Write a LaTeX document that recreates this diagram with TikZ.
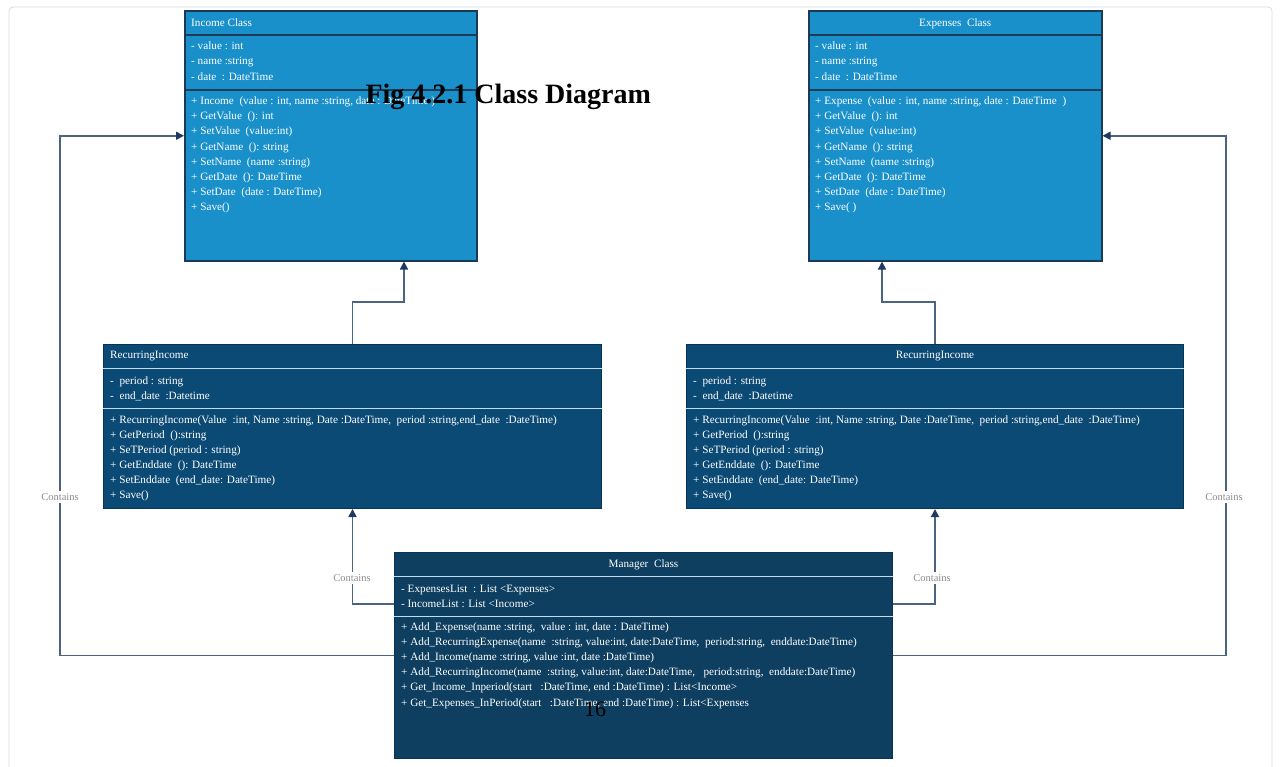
\documentclass[tikz,border=0pt]{standalone}
\usepackage{fontspec}
\setmainfont{Liberation Serif}
\usetikzlibrary{arrows.meta,calc}

\definecolor{incblue}{HTML}{1A90CB}
\definecolor{incedge}{HTML}{1B3A56}
\definecolor{recblue}{HTML}{0C4A76}
\definecolor{mgrblue}{HTML}{0E3F60}
\definecolor{seplight}{HTML}{BFDDF0}
\definecolor{wire}{HTML}{4A6482}
\definecolor{tipblue}{HTML}{1E3A5E}

\tikzset{
  lightclass/.style={draw=incedge, line width=1.5pt, fill=incblue, inner sep=0pt, anchor=north west},
  darkclass/.style={draw=recblue!70!black, line width=1pt, fill=recblue, inner sep=0pt, anchor=north west},
  row/.style={anchor=west, inner sep=0pt, text=white, font=\fontsize{11.2}{13}\selectfont, text height=7pt, text depth=2pt},
  sepdark/.style={draw=incedge, line width=1.5pt},
  seplt/.style={draw=seplight, line width=1pt},
  contains/.style={draw=wire, line width=1.6pt, -{Triangle[length=8pt,width=8pt,color=tipblue]}},
  clabel/.style={fill=white, text=black!45, font=\fontsize{10.5}{12}\selectfont, inner sep=2pt},
}

% name, x, y of first row, row step, list of rows
\newcommand{\classrows}[5]{\foreach \txt [count=\i] in {#5}
  \node[row] (#1\i) at (#2,{#3+#4*(\i-1)}) {\txt};}

\begin{document}
\begin{tikzpicture}[x=1pt,y=-1pt]
\useasboundingbox (0,0) rectangle (1280,766);
\draw[black!15, line width=0.8pt, rounded corners=4pt] (9,7) rectangle (1272,800);

%% Income class
\node[lightclass, minimum width=292pt, minimum height=250pt] (income) at (184,10) {};
\draw[sepdark] ([yshift=-25pt]income.north west) -- ([yshift=-25pt]income.north east);
\draw[sepdark] ([yshift=-80pt]income.north west) -- ([yshift=-80pt]income.north east);
\node[row] (incT) at (191,24) {Income Class};
\classrows{inca}{191}{47}{15.3}{{- value : int},{- name :string},{- date~ : DateTime}}
\classrows{incm}{191}{102}{15.2}{{+ Income~ (value : int, name :string, date : DateTime )},{+ GetValue~ (): int},{+ SetValue~ (value:int)},{+ GetName~ (): string},{+ SetName~ (name :string)},{+ GetDate~ (): DateTime},{+ SetDate~ (date : DateTime)},{+ Save()}}

%% Expenses class
\node[lightclass, minimum width=293pt, minimum height=250pt] (expense) at (808,10) {};
\draw[sepdark] ([yshift=-25pt]expense.north west) -- ([yshift=-25pt]expense.north east);
\draw[sepdark] ([yshift=-80pt]expense.north west) -- ([yshift=-80pt]expense.north east);
\node[row, anchor=center] (expT) at ([yshift=-14pt]expense.north) {Expenses~ Class};
\classrows{expa}{815}{47}{15.3}{{- value : int},{- name :string},{- date~ : DateTime}}
\classrows{expm}{815}{102}{15.2}{{+ Expense~ (value : int, name :string, date : DateTime~ )},{+ GetValue~ (): int},{+ SetValue~ (value:int)},{+ GetName~ (): string},{+ SetName~ (name :string)},{+ GetDate~ (): DateTime},{+ SetDate~ (date : DateTime)},{+ Save( )}}

%% recurring, left
\node[darkclass, minimum width=498pt, minimum height=164pt] (recL) at (103,344) {};
\draw[seplt] ([yshift=-24pt]recL.north west) -- ([yshift=-24pt]recL.north east);
\draw[seplt] ([yshift=-64pt]recL.north west) -- ([yshift=-64pt]recL.north east);
\node[row] (recLT) at (110,356) {RecurringIncome};
\classrows{recla}{110}{382}{14.5}{{-~ period : string},{-~ end\_date~ :Datetime}}
\classrows{reclm}{110}{421}{15}{{+ RecurringIncome(Value~ :int, Name :string, Date :DateTime,~ period :string,end\_date~ :DateTime)},{+ GetPeriod~ ():string},{+ SeTPeriod (period : string)},{+ GetEnddate~ (): DateTime},{+ SetEnddate~ (end\_date: DateTime)},{+ Save()}}

%% recurring, right
\node[darkclass, minimum width=497pt, minimum height=164pt] (recR) at (686,344) {};
\draw[seplt] ([yshift=-24pt]recR.north west) -- ([yshift=-24pt]recR.north east);
\draw[seplt] ([yshift=-64pt]recR.north west) -- ([yshift=-64pt]recR.north east);
\node[row, anchor=center] (recRT) at ([yshift=-12pt]recR.north) {RecurringIncome};
\classrows{recra}{693}{382}{14.5}{{-~ period : string},{-~ end\_date~ :Datetime}}
\classrows{recrm}{693}{421}{15}{{+ RecurringIncome(Value~ :int, Name :string, Date :DateTime,~ period :string,end\_date~ :DateTime)},{+ GetPeriod~ ():string},{+ SeTPeriod (period : string)},{+ GetEnddate~ (): DateTime},{+ SetEnddate~ (end\_date: DateTime)},{+ Save()}}

%% manager
\node[darkclass, fill=mgrblue, minimum width=498pt, minimum height=206pt] (mgr) at (394,552) {};
\draw[seplt] ([yshift=-24pt]mgr.north west) -- ([yshift=-24pt]mgr.north east);
\draw[seplt] ([yshift=-64pt]mgr.north west) -- ([yshift=-64pt]mgr.north east);
\node[row, anchor=center] (mgrT) at ([yshift=-13pt]mgr.north) {Manager~ Class};
\classrows{mgra}{401}{590}{14.5}{{- ExpensesList~ : List <Expenses>},{- IncomeList : List <Income>}}
\classrows{mgrm}{401}{628}{15.1}{{+ Add\_Expense(name :string,~ value : int, date : DateTime)},{+ Add\_RecurringExpense(name~ :string, value:int, date:DateTime,~ period:string,~ enddate:DateTime)},{+ Add\_Income(name :string, value :int, date :DateTime)},{+ Add\_RecurringIncome(name~ :string, value:int, date:DateTime,~~ period:string,~ enddate:DateTime)},{+ Get\_Income\_Inperiod(start~~ :DateTime, end :DateTime) : List<Income>},{+ Get\_Expenses\_InPeriod(start~~ :DateTime, end :DateTime) : List<Expenses}}

%% inheritance
\draw[contains] (recL.north) -- ++(0,-42) -| ($(income.south west)+(220,0)$);
\draw[contains] (recR.north) -- ++(0,-42) -| ($(expense.south west)+(74,0)$);

%% manager links
\draw[contains] ($(mgr.north west)+(0,52)$) -| (recL.south);
\draw[contains] ($(mgr.north east)+(0,52)$) -| (recR.south);
\draw[contains] (mgr.west) -- ++(-334,0) |- (income.west);
\draw[contains] (mgr.east) -- ++(333,0) |- (expense.east);
\node[clabel] (c1) at (60,497) {Contains};
\node[clabel] (c2) at (352,578) {Contains};
\node[clabel] (c3) at (932,578) {Contains};
\node[clabel] (c4) at (1224,497) {Contains};

%% caption and page number
\node[anchor=west, font=\bfseries\fontsize{28}{30}\selectfont] (fig) at (362,97) {Fig 4.2.1 Class Diagram};
\node[font=\fontsize{22}{24}\selectfont] (pg) at (595,709) {16};
\end{tikzpicture}
\end{document}
